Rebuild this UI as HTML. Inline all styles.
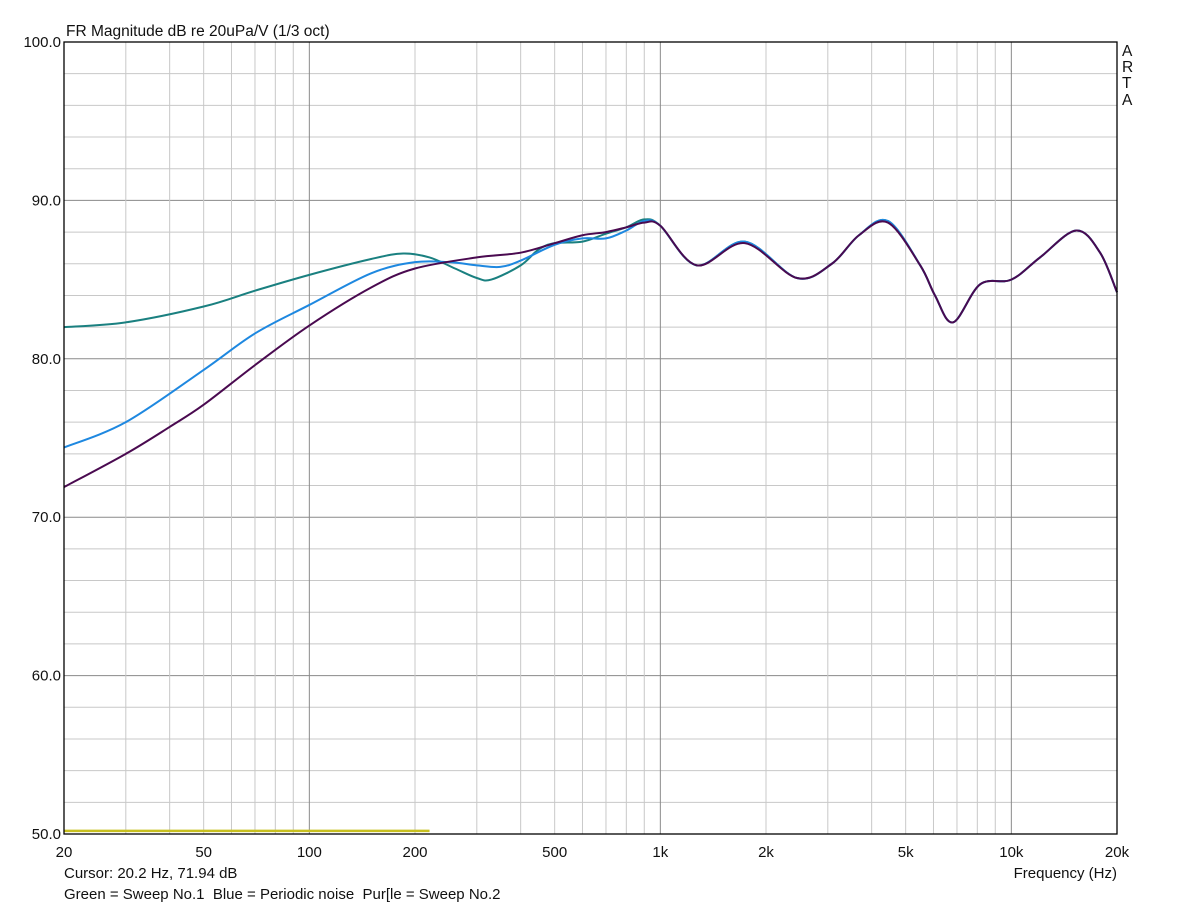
<!DOCTYPE html>
<html><head><meta charset="utf-8"><style>
html,body{margin:0;padding:0;background:#fff;}
svg{display:block;font-family:"Liberation Sans",Arial,sans-serif;}
text{white-space:pre;}
</style></head><body>
<svg id="chart" width="1181" height="906" viewBox="0 0 1181 906">
<g id="grid"></g>
<g id="curves"></g>
<rect x="64" y="42" width="1053" height="792" fill="none" stroke="#000" stroke-width="1.3"/>
<text x="66" y="36" font-size="15.5" fill="#111">FR Magnitude dB re 20uPa/V (1/3 oct)</text>
<g font-size="15.5" fill="#111">
<text x="1122" y="56">A</text><text x="1122" y="72">R</text><text x="1122" y="88">T</text><text x="1122" y="105">A</text>
</g>
<g id="yticks"></g>
<g id="xticks"></g>
<text x="1117" y="878" font-size="15" fill="#111" text-anchor="end">Frequency (Hz)</text>
<text x="64" y="878" font-size="15" fill="#111">Cursor: 20.2 Hz, 71.94 dB</text>
<text x="64" y="899" font-size="15" fill="#111" xml:space="preserve">Green = Sweep No.1  Blue = Periodic noise  Pur[le = Sweep No.2</text>
</svg>
<script>
const yTicks=[50,60,70,80,90,100];
const xTickVals=[20,50,100,200,500,1000,2000,5000,10000,20000];
const xTickLabels=["20","50","100","200","500","1k","2k","5k","10k","20k"];
const greenF=[20,30,50,70,100,150,185,220,260,300,330,400,450,500,600,700,800,900,1000,1270,1740,2450,3080,3680,4450,5500,6060,6820,8150,10000,12070,15300,17900,20000];
const greenDB=[82.0,82.3,83.3,84.3,85.3,86.3,86.65,86.4,85.7,85.1,85.0,85.9,86.9,87.3,87.4,87.9,88.3,88.8,88.4,85.9,87.4,85.1,86.0,87.8,88.7,85.9,84.0,82.3,84.7,85.0,86.4,88.1,86.7,84.2];
const blueF=[20,30,50,70,100,150,200,250,300,350,400,500,600,700,800,900,1000,1270,1740,2450,3080,3680,4450,5500,6060,6820,8150,10000,12070,15300,17900,20000];
const blueDB=[74.4,76.0,79.3,81.6,83.4,85.4,86.1,86.1,85.9,85.8,86.2,87.2,87.6,87.6,88.1,88.7,88.4,85.9,87.4,85.1,86.0,87.8,88.7,85.9,84.0,82.3,84.7,85.0,86.4,88.1,86.7,84.2];
const purpleF=[20,30,40,50,70,100,150,200,300,400,500,600,700,800,900,1000,1270,1740,2450,3080,3680,4450,5500,6060,6820,8150,10000,12070,15300,17900,20000];
const purpleDB=[71.9,74.0,75.7,77.1,79.6,82.1,84.5,85.7,86.4,86.7,87.3,87.8,88.0,88.3,88.6,88.4,85.9,87.3,85.1,86.0,87.8,88.6,85.9,84.0,82.3,84.7,85.0,86.4,88.1,86.7,84.2];
const noiseF=[20,220];
const noiseDB=[50.2,50.2];

const X0=64,X1=1117,Y0=834,Y1=42;
const xs=f=>X0+(X1-X0)*Math.log10(f/20)/3;
const ys=d=>Y0-(Y0-Y1)*(d-50)/50;
const NS="http://www.w3.org/2000/svg";
function mk(tag,attrs,parent){const e=document.createElementNS(NS,tag);for(const k in attrs)e.setAttribute(k,attrs[k]);parent.appendChild(e);return e;}
const grid=document.getElementById('grid');
for(let d=52;d<100;d+=2){
  const major=d%10===0;
  const l=mk('line',{x1:X0,x2:X1,y1:ys(d),y2:ys(d),stroke:major?'#8a8a8a':'#c8c8c8','stroke-width':1},grid);
  
  
}
for(let dec=10;dec<=10000;dec*=10){
  for(let m=1;m<10;m++){
    const f=dec*m; if(f<=20||f>=20000)continue;
    const major=m===1;
    const l=mk('line',{x1:xs(f),x2:xs(f),y1:Y1,y2:Y0,stroke:major?'#8a8a8a':'#c8c8c8','stroke-width':1},grid);
    
    
  }
}
const yt=document.getElementById('yticks');
yTicks.forEach(d=>{
  const t=mk('text',{x:61,y:ys(d)+5,'font-size':15,fill:'#111','text-anchor':'end'},yt);
  t.textContent=d.toFixed(1);
  
  
});
const xt=document.getElementById('xticks');
xTickVals.forEach((f,i)=>{
  const t=mk('text',{x:xs(f),y:857,'font-size':15,fill:'#111','text-anchor':'middle'},xt);
  t.textContent=xTickLabels[i];
  
  
});
function pathFor(F,D){
  const p=F.map((f,i)=>[xs(f),ys(D[i])]);
  let s=`M${p[0][0]},${p[0][1]}`;
  for(let i=0;i<p.length-1;i++){
    const p0=p[i-1]||p[i],p1=p[i],p2=p[i+1],p3=p[i+2]||p[i+1];
    const c1=[p1[0]+(p2[0]-p0[0])/6,p1[1]+(p2[1]-p0[1])/6];
    const c2=[p2[0]-(p3[0]-p1[0])/6,p2[1]-(p3[1]-p1[1])/6];
    s+=` C${c1[0]},${c1[1]} ${c2[0]},${c2[1]} ${p2[0]},${p2[1]}`;
  }
  return s;
}
const cv=document.getElementById('curves');
const n=mk('path',{d:pathFor(noiseF,noiseDB),fill:'none',stroke:'#c8c020','stroke-width':2.5},cv);


const g=mk('path',{d:pathFor(greenF,greenDB),fill:'none',stroke:'#1a8080','stroke-width':2},cv);


const b=mk('path',{d:pathFor(blueF,blueDB),fill:'none',stroke:'#1e88e0','stroke-width':2},cv);


const pu=mk('path',{d:pathFor(purpleF,purpleDB),fill:'none',stroke:'#4a0a50','stroke-width':2},cv);


</script>
</body></html>
